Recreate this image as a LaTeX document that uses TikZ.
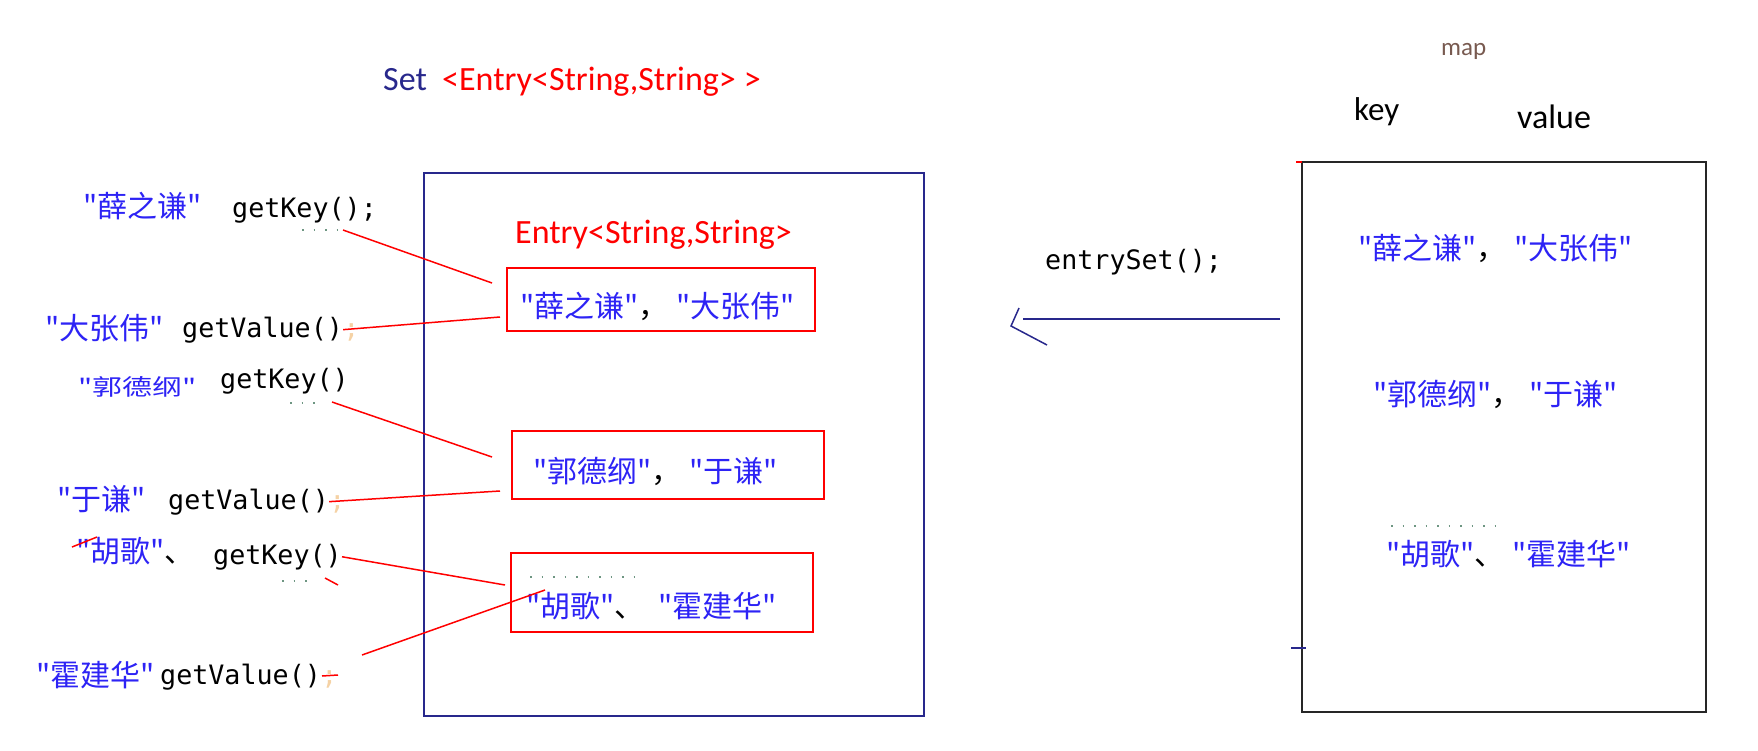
\documentclass[tikz,border=0pt]{standalone}
\usepackage{fontspec}
\setmainfont{Carlito}
\newfontfamily\cjkfont{Noto Sans CJK SC}
\newfontfamily\codefont{DejaVu Sans Mono}
\usetikzlibrary{calc}
\definecolor{setnavy}{RGB}{40,40,140}
\definecolor{hanblue}{RGB}{45,35,245}
\definecolor{mapbrown}{RGB}{120,90,80}
\definecolor{imegray}{RGB}{110,150,130}
\definecolor{semiorange}{RGB}{245,210,165}
\newcommand{\blk}[1]{{\color{black}#1}}

\begin{document}
\begin{tikzpicture}[x=1pt,y=-1pt,
  han/.style={anchor=base west,inner sep=0pt,text=hanblue,font=\cjkfont\fontsize{30}{36}\selectfont},
  code/.style={anchor=base west,inner sep=0pt,font=\codefont\fontsize{26.7}{32}\selectfont},
  latin/.style={anchor=base west,inner sep=0pt,font=\fontsize{34}{40}\selectfont},
  entrybox/.style={draw=red,line width=2pt,inner sep=0pt},
  link/.style={red,line width=1.5pt},
  imedots/.style={imegray,line width=1.5pt,dash pattern=on 1.5pt off 10pt}]
  \useasboundingbox (0,0) rectangle (1758,750);

  % Set<Entry<...>> with its entries
  \node[latin,text=setnavy] (set) at (383,90) {Set};
  \node[latin,text=red] (settype) at (442,90) {<Entry<String,String>\hspace{8pt}>};
  \node[draw=setnavy,line width=2pt,inner sep=0pt,minimum width=500pt,minimum height=543pt] (setbox) at (674,444.5) {};
  \node[latin,text=red] (entrylbl) at (515,243) {Entry<String,String>};

  \node[entrybox,minimum width=308pt,minimum height=63pt] (e1) at (661,299.5) {};
  \node[entrybox,minimum width=312pt,minimum height=68pt] (e2) at (668,465) {};
  \node[entrybox,minimum width=302pt,minimum height=79pt] (e3) at (662,592.5) {};
  \node[han] (p1) at (520,317) {"薛之谦"\blk{，}\hspace{8pt}"大张伟"};
  \node[han] (p2) at (533,482) {"郭德纲"\blk{，}\hspace{8pt}"于谦"};
  \node[han] (p3) at (526,617) {"胡歌"\blk{、}\hspace{14pt}"霍建华"};
  \draw[imedots] (530,577) -- (640,577);

  % map
  \node[latin,text=mapbrown,font=\fontsize{25}{30}\selectfont] (maplbl) at (1441,55) {map};
  \node[latin,font=\fontsize{33}{40}\selectfont] (keylbl) at (1354,120) {key};
  \node[latin] (vallbl) at (1517,128) {value};
  \node[draw=black!85,line width=2.5pt,inner sep=0pt,minimum width=404pt,minimum height=550pt] (mapbox) at (1504,437) {};
  \node[han] (r1) at (1358,259) {"薛之谦"\blk{，}\hspace{8pt}"大张伟"};
  \node[han] (r2) at (1373,405) {"郭德纲"\blk{，}\hspace{8pt}"于谦"};
  \node[han] (r3) at (1386,565) {"胡歌"\blk{、}\hspace{8pt}"霍建华"};
  \draw[imedots] (1391,526) -- (1500,526);
  \draw[red,line width=1.5pt] (1296,162) -- (1302,162);
  \draw[setnavy,line width=1.5pt] (1291,648) -- (1306,648);

  % entrySet() arrow
  \node[code] (es) at (1045,269) {entrySet();};
  \coordinate (arrS) at (1280,319);
  \coordinate (arrE) at (1023,319);
  \draw[setnavy,line width=2pt] (arrS) -- (arrE);
  \draw[setnavy,line width=1.5pt] (arrE) ++(-4,-11) -- ++(-8,18) -- ++(36,19);

  % getKey / getValue
  \node[han] (k1name) at (83,217) {"薛之谦"};
  \node[code] (k1) at (232,217) {getKey();};
  \node[han] (v1name) at (45,339) {"大张伟"};
  \node[code] (v1) at (182,337) {getValue()};
  \node[code,text=semiorange] (s1) at (v1.base east) {;};
  \node[han] (k2name) at (78,395) {\scalebox{1}[0.75]{"郭德纲"}};
  \node[code] (k2) at (220,388) {getKey()};
  \node[han] (v2name) at (57,510) {"于谦"};
  \node[code] (v2) at (168,509) {getValue()};
  \node[code,text=semiorange] (s2) at (v2.base east) {;};
  \node[han] (k3name) at (76,562) {"胡歌"\blk{、}};
  \node[code] (k3) at (213,564) {getKey()};
  \node[han] (v3name) at (36,686) {"霍建华"};
  \node[code] (v3) at (160,684) {getValue()};
  \node[code,text=semiorange] (s3) at (v3.base east) {;};

  \draw[imedots] (302,230) -- (340,230);
  \draw[imedots] (290,403) -- (322,403);
  \draw[imedots] (282,581) -- (314,581);

  % links
  \coordinate (a1) at (343,230);
  \coordinate (a3) at (332,402);
  \coordinate (a6) at (362,655);
  \coordinate (b1) at (492,283);
  \coordinate (b2) at (500,317);
  \coordinate (b3) at (492,457);
  \coordinate (b4) at (500,491);
  \coordinate (b5) at (505,585);
  \coordinate (b6) at (545,590);
  \draw[link] (a1) -- (b1);
  \draw[link] (v1.east) -- (b2);
  \draw[link] (a3) -- (b3);
  \draw[link] (v2.east) -- (b4);
  \draw[link] (k3.east) -- (b5);
  \draw[link] (a6) -- (b6);
  \draw[link] (72,547) -- (97,537);
  \draw[link] (325,578) -- (338,585);
  \draw[link] (322,676) -- (338,675);
\end{tikzpicture}
\end{document}
